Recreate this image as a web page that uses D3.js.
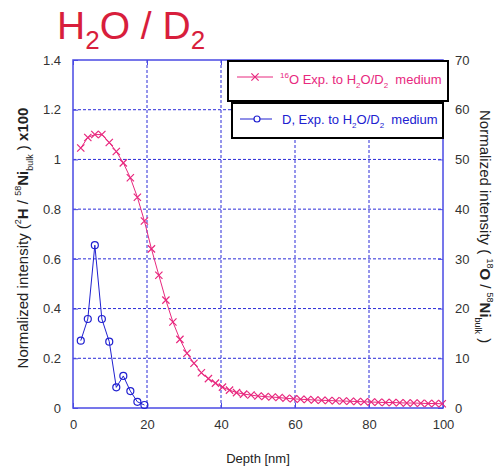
<!DOCTYPE html>
<html>
<head>
<meta charset="utf-8">
<script src="https://cdn.jsdelivr.net/npm/d3@7"></script>
<style>
  body { margin: 0; background: #fff; }
  svg text { font-family: "Liberation Sans", Arial, sans-serif; white-space: pre; }
</style>
</head>
<body>
<div id="chart"></div>
<script>
// depth grid (nm) shared by both series
const depth = [2.1, 4.0, 5.9, 7.8, 9.8, 11.7, 13.6, 15.5, 17.4, 19.3,
  21.2, 23.2, 25.1, 27.0, 28.9, 30.8, 32.7, 34.7, 36.6, 38.5,
  40.4, 42.3, 44.2, 46.1, 48.1, 50.0, 51.9, 53.8, 55.7, 57.6,
  59.6, 61.5, 63.4, 65.3, 67.2, 69.1, 71.0, 73.0, 74.9, 76.8,
  78.7, 80.6, 82.5, 84.5, 86.4, 88.3, 90.2, 92.1, 94.0, 96.0,
  97.9, 99.8];

// 18O / 58Ni (right axis)
const oxygen = [52.3, 54.4, 55.0, 55.0, 53.4, 51.6, 49.3, 46.3, 42.4, 37.6,
  32.0, 26.7, 21.7, 17.3, 13.8, 11.0, 9.0, 7.1, 5.9, 5.0,
  4.2, 3.6, 3.1, 2.8, 2.6, 2.4, 2.3, 2.2, 2.1, 1.95,
  1.85, 1.75, 1.7, 1.6, 1.55, 1.5, 1.45, 1.4, 1.35, 1.3,
  1.25, 1.2, 1.15, 1.1, 1.1, 1.05, 1.0, 1.0, 0.95, 0.9,
  0.9, 0.85];

// 2H / 58Ni x100 (left axis), first 10 depths
const deuterium = [0.271, 0.358, 0.655, 0.358, 0.267, 0.083, 0.129, 0.068, 0.025, 0.012];

const xTicks = [0, 20, 40, 60, 80, 100];
const yLeftTicks = [0, 0.2, 0.4, 0.6, 0.8, 1, 1.2, 1.4];
const yRightTicks = [0, 10, 20, 30, 40, 50, 60, 70];

const width = 494, height = 470;
const margin = { top: 60, left: 73, right: 51, bottom: 62 };
const iw = width - margin.left - margin.right;
const ih = height - margin.top - margin.bottom;

const pink = "#e8287e";
const blue = "#2020d0";
const frame = "#4a4ae4";
const grid = "#2a2ad8";

const svg = d3.select("#chart").append("svg")
  .attr("width", width).attr("height", height);

// title
const title = svg.append("text")
  .attr("x", 57).attr("y", 39)
  .attr("fill", "#d81e3c")
  .style("font-size", "39px");
title.append("tspan").text("H");
title.append("tspan").attr("dy", 10).style("font-size", "26px").text("2");
title.append("tspan").attr("dy", -10).text("O / D");
title.append("tspan").attr("dy", 10).style("font-size", "26px").text("2");

const g = svg.append("g")
  .attr("transform", `translate(${margin.left},${margin.top})`);

const x = d3.scaleLinear().domain([0, 100]).range([0, iw]);
const yL = d3.scaleLinear().domain([0, 1.4]).range([ih, 0]);
const yR = d3.scaleLinear().domain([0, 70]).range([ih, 0]);

// grid
g.append("g").selectAll("line").data(xTicks.filter(d => d > 0 && d < 100)).join("line")
  .attr("x1", d => x(d)).attr("x2", d => x(d)).attr("y1", 0).attr("y2", ih)
  .attr("stroke", grid).attr("stroke-dasharray", "3,2");
g.append("g").selectAll("line").data(yLeftTicks.filter(d => d > 0 && d < 1.4)).join("line")
  .attr("x1", 0).attr("x2", iw).attr("y1", d => yL(d)).attr("y2", d => yL(d))
  .attr("stroke", grid).attr("stroke-dasharray", "3,2");

// axes
const styleAxis = (sel) => {
  sel.select(".domain").remove();
  sel.selectAll(".tick line").attr("stroke", frame);
  sel.selectAll(".tick text").attr("fill", "#333").style("font-size", "13px");
};

g.append("g").attr("transform", `translate(0,${ih})`)
  .call(d3.axisBottom(x).tickValues(xTicks).tickSizeInner(-5).tickPadding(12).tickFormat(d3.format("d")))
  .call(styleAxis);
g.append("g")
  .call(d3.axisTop(x).tickValues(xTicks).tickSizeInner(-5).tickFormat(""))
  .call(styleAxis);
g.append("g")
  .call(d3.axisLeft(yL).tickValues(yLeftTicks).tickSizeInner(-5).tickPadding(12).tickFormat(d => d3.format("~g")(d)))
  .call(styleAxis);
g.append("g").attr("transform", `translate(${iw},0)`)
  .call(d3.axisRight(yR).tickValues(yRightTicks).tickSizeInner(-5).tickPadding(12).tickFormat(d3.format("d")))
  .call(styleAxis);

g.append("rect").attr("width", iw).attr("height", ih)
  .attr("fill", "none").attr("stroke", frame).attr("stroke-width", 1.5);

// 18O series
const oData = depth.map((d, i) => [d, oxygen[i]]);
g.append("path").datum(oData)
  .attr("fill", "none").attr("stroke", pink).attr("stroke-width", 1)
  .attr("d", d3.line().x(d => x(d[0])).y(d => yR(d[1])));
const cross = d3.symbol().type(d3.symbolTimes).size(36);
g.append("g").selectAll("path").data(oData).join("path")
  .attr("transform", d => `translate(${x(d[0])},${yR(d[1])})`)
  .attr("d", cross)
  .attr("fill", "none").attr("stroke", pink).attr("stroke-width", 1.2);

// D series
const dData = deuterium.map((v, i) => [depth[i], v]);
g.append("path").datum(dData)
  .attr("fill", "none").attr("stroke", blue).attr("stroke-width", 1)
  .attr("d", d3.line().x(d => x(d[0])).y(d => yL(d[1])));
g.append("g").selectAll("circle").data(dData).join("circle")
  .attr("cx", d => x(d[0])).attr("cy", d => yL(d[1])).attr("r", 3.5)
  .attr("fill", "none").attr("stroke", blue).attr("stroke-width", 1.2);

// legend
const addText = (parent, parts) => {
  parts.forEach(p => {
    const t = parent.append("tspan").text(p.t);
    if (p.dy) t.attr("dy", p.dy);
    if (p.s) t.style("font-size", p.s + "px");
    if (p.b) t.style("font-weight", "bold");
  });
};

svg.append("rect").attr("x", 228).attr("y", 61).attr("width", 220).attr("height", 40)
  .attr("fill", "#fff").attr("stroke", "#000").attr("stroke-width", 2);
svg.append("line").attr("x1", 237).attr("x2", 273).attr("y1", 77).attr("y2", 77)
  .attr("stroke", pink);
svg.append("path").attr("transform", "translate(255,77)").attr("d", cross)
  .attr("fill", "none").attr("stroke", pink).attr("stroke-width", 1.2);
const l1 = svg.append("text").attr("x", 280).attr("y", 84).attr("fill", pink).style("font-size", "13px");
addText(l1, [
  { t: "16", s: 8, dy: -6 }, { t: "O Exp. to H", dy: 6 }, { t: "2", s: 8, dy: 4 },
  { t: "O/D", dy: -4 }, { t: "2", s: 8, dy: 4 }, { t: "  medium", dy: -4 }
]);

svg.append("rect").attr("x", 232).attr("y", 103).attr("width", 211).attr("height", 35)
  .attr("fill", "#fff").attr("stroke", "#000").attr("stroke-width", 2);
svg.append("line").attr("x1", 240).attr("x2", 272).attr("y1", 119).attr("y2", 119)
  .attr("stroke", blue);
svg.append("circle").attr("cx", 257).attr("cy", 119).attr("r", 3)
  .attr("fill", "#fff").attr("stroke", blue).attr("stroke-width", 1.2);
const l2 = svg.append("text").attr("x", 282).attr("y", 124).attr("fill", blue).style("font-size", "13px");
addText(l2, [
  { t: "D, Exp. to H" }, { t: "2", s: 8, dy: 4 },
  { t: "O/D", dy: -4 }, { t: "2", s: 8, dy: 4 }, { t: "  medium", dy: -4 }
]);

// axis titles
svg.append("text").attr("x", 258).attr("y", 463).attr("text-anchor", "middle")
  .attr("fill", "#222").style("font-size", "13px").text("Depth [nm]");

const lt = svg.append("text").attr("transform", "translate(28,238) rotate(-90)")
  .attr("text-anchor", "middle").attr("fill", "#222").style("font-size", "15px");
addText(lt, [
  { t: "Normalized intensity (" }, { t: "2", s: 9, dy: -7 }, { t: "H", b: true, dy: 7 },
  { t: " / " }, { t: "58", s: 9, dy: -7 }, { t: "Ni", b: true, dy: 7 },
  { t: "bulk", s: 9, dy: 5 }, { t: " ) ", dy: -5 }, { t: "x100", b: true }
]);

const rt = svg.append("text").attr("transform", "translate(480,110) rotate(90)")
  .attr("fill", "#222").style("font-size", "15px");
addText(rt, [
  { t: "Normalized intensity ( " }, { t: "18", s: 9, dy: -7 }, { t: "O", b: true, dy: 7 },
  { t: " / " }, { t: "58", s: 9, dy: -7 }, { t: "Ni", b: true, dy: 7 },
  { t: "bulk", s: 9, dy: 5 }, { t: " )", dy: -5 }
]);
</script>
</body>
</html>
